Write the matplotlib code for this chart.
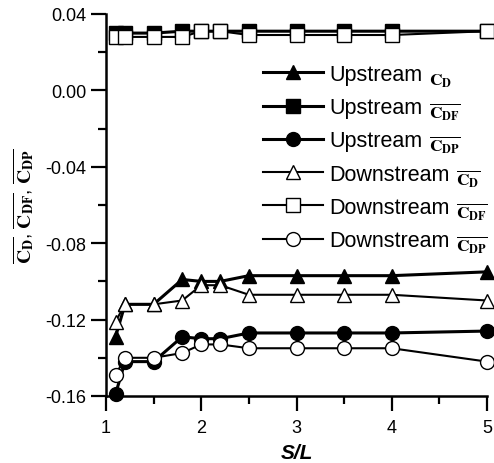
import numpy as np
import matplotlib
matplotlib.use("Agg")
import matplotlib.pyplot as plt
from matplotlib.ticker import MultipleLocator, FormatStrFormatter

plt.rcParams["font.family"] = ["Liberation Sans", "DejaVu Sans"]
plt.rcParams["mathtext.fontset"] = "stix"
plt.rcParams["axes.unicode_minus"] = False

# spacing ratio S/L
sl = [1.1, 1.2, 1.5, 1.8, 2.0, 2.2, 2.5, 3.0, 3.5, 4.0, 5.0]

up_cd = [-0.129, -0.112, -0.112, -0.099, -0.100, -0.100, -0.097, -0.097, -0.097, -0.097, -0.095]
up_cdf = [0.030, 0.030, 0.030, 0.031, 0.031, 0.031, 0.031, 0.031, 0.031, 0.031, 0.031]
up_cdp = [-0.159, -0.142, -0.142, -0.129, -0.130, -0.130, -0.127, -0.127, -0.127, -0.127, -0.126]
dn_cd = [-0.121, -0.112, -0.112, -0.110, -0.102, -0.102, -0.107, -0.107, -0.107, -0.107, -0.110]
dn_cdf = [0.028, 0.028, 0.028, 0.028, 0.031, 0.031, 0.029, 0.029, 0.029, 0.029, 0.031]
dn_cdp = [-0.149, -0.140, -0.140, -0.1375, -0.133, -0.133, -0.135, -0.135, -0.135, -0.135, -0.142]

names = ["Upstream", "Upstream", "Upstream", "Downstream", "Downstream", "Downstream"]
symbols = [
    r"$\mathbf{C_D}$",
    r"$\overline{\mathbf{C_{DF}}}$",
    r"$\overline{\mathbf{C_{DP}}}$",
    r"$\overline{\mathbf{C_D}}$",
    r"$\overline{\mathbf{C_{DF}}}$",
    r"$\overline{\mathbf{C_{DP}}}$",
]

W, H = 494, 464
fig = plt.figure(figsize=(W / 100, H / 100), dpi=100)
ax = fig.add_axes([106 / W, 1 - 397 / H, 381 / W, 382 / H])

series = [
    (up_cd, "^", "k", 2.2),
    (up_cdf, "s", "k", 2.2),
    (up_cdp, "o", "k", 2.2),
    (dn_cd, "^", "w", 1.5),
    (dn_cdf, "s", "w", 1.5),
    (dn_cdp, "o", "w", 1.5),
]
for (vals, mk, fc, lw), lab in zip(series, names):
    ax.plot(sl, vals, color="k", lw=lw, marker=mk, ms=10, mfc=fc, mec="k",
            mew=1.0, label=lab, clip_on=False)

ax.set_xlim(1, 5)
ax.set_ylim(-0.16, 0.04)
ax.xaxis.set_major_locator(MultipleLocator(1))
ax.xaxis.set_minor_locator(MultipleLocator(0.5))
ax.yaxis.set_major_locator(MultipleLocator(0.04))
ax.yaxis.set_minor_locator(MultipleLocator(0.02))
ax.yaxis.set_major_formatter(FormatStrFormatter("%.2f"))

for s in ["top", "right"]:
    ax.spines[s].set_visible(False)
for s in ["left", "bottom"]:
    ax.spines[s].set_linewidth(1.8)
ax.tick_params(which="major", direction="out", length=10.5, width=1.6, labelsize=13)
ax.tick_params(axis="x", which="major", pad=6)
ax.tick_params(which="minor", direction="out", length=6, width=1.6)

ax.set_xlabel("S/L", fontsize=15, fontweight="bold", style="italic", labelpad=5)
ax.set_ylabel(r"$\overline{\mathbf{C_D}}$, $\overline{\mathbf{C_{DF}}}$, $\overline{\mathbf{C_{DP}}}$",
              fontsize=14, labelpad=6)

leg = ax.legend(loc="upper left", bbox_to_anchor=(252 / W, 1 - 54 / H),
                bbox_transform=fig.transFigure, frameon=False, fontsize=15.5,
                handlelength=2.8, handletextpad=0.3, labelspacing=0.57, borderpad=0)

# symbols after the legend words, smaller serif
fig.canvas.draw()
inv = fig.transFigure.inverted()
for txt, sym in zip(leg.get_texts(), symbols):
    bb = txt.get_window_extent()
    x0, y0 = txt.get_transform().transform(txt.get_position())
    fx, fy = inv.transform((bb.x1 + 6, y0 - 5))
    fig.text(fx, fy, sym, fontsize=12.5, ha="left", va="baseline")

fig.savefig("out.png", dpi=100)
